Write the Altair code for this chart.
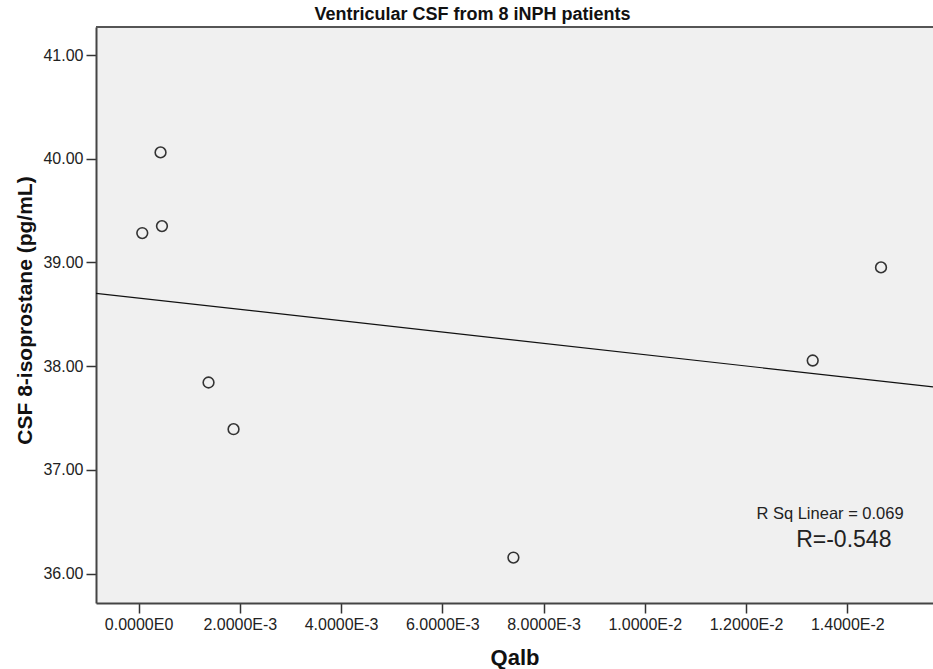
import altair as alt
import pandas as pd

# Data
qalb = [0.000073, 0.000434, 0.000462, 0.001382, 0.001876, 0.007404, 0.013316, 0.014665]
isoprostane = [39.283, 40.061, 39.350, 37.842, 37.392, 36.154, 38.054, 38.952]

x_ticks = [0.0, 0.002, 0.004, 0.006, 0.008, 0.010, 0.012, 0.014]
y_ticks = [36, 37, 38, 39, 40, 41]
x_domain = [-0.000841, 0.015692]
y_domain = [35.716, 41.270]

note_text = ["R Sq Linear = 0.069", "R=-0.548"]
note_x = [0.013658, 0.013930]
note_y = [36.572, 36.321]
note_size = [16.5, 23]

TITLE = "Ventricular CSF from 8 iNPH patients"
X_TITLE = "Qalb"
Y_TITLE = "CSF 8-isoprostane (pg/mL)"

pts = pd.DataFrame({"x": qalb, "y": isoprostane})
notes = pd.DataFrame({"x": note_x, "y": note_y, "t": note_text, "fs": note_size})

FONT = "Liberation Sans"

sci_label = (
    "datum.value == 0 ? '0.0000E0' : "
    "format(datum.value / pow(10, floor(log(abs(datum.value)) / LN10 + 1e-9)), '.4f') + 'E' + "
    "floor(log(abs(datum.value)) / LN10 + 1e-9)"
)

X = alt.X(
    "x:Q",
    scale=alt.Scale(domain=x_domain, nice=False, zero=False),
    axis=alt.Axis(
        values=x_ticks, labelExpr=sci_label, tickSize=10, labelPadding=3,
        title=X_TITLE, titleFont=FONT, titleFontSize=22, titleFontWeight="bold",
        titleY=61, titleBaseline="alphabetic", titleColor="#111",
    ),
)
Y = alt.Y(
    "y:Q",
    scale=alt.Scale(domain=y_domain, nice=False, zero=False),
    axis=alt.Axis(
        values=y_ticks, format=".2f", tickSize=10, labelPadding=3,
        title=Y_TITLE, titleFont=FONT, titleFontSize=21, titleFontWeight="bold",
        titleX=-65, titleY=283, titleAngle=270, titleAlign="center",
        titleBaseline="alphabetic", titleColor="#111",
    ),
)

points = alt.Chart(pts).mark_point(
    shape="circle", filled=False, size=115, stroke="#333333", strokeWidth=1.6, opacity=1
).encode(x=X, y=Y)

fit = alt.Chart(pts).transform_regression(
    "x", "y", extent=x_domain
).mark_line(color="#111111", strokeWidth=1.2, clip=True).encode(x=X, y=Y)

note_layer = alt.Chart(notes).mark_text(
    font=FONT, color="#222222", align="center", baseline="middle"
).encode(x=X, y=Y, text="t:N", size=alt.Size("fs:Q", scale=None, legend=None))

top_border = alt.Chart(pts).mark_rule(color="#555555", strokeWidth=2).encode(
    x=alt.value(0), x2=alt.value(837), y=alt.value(0)
)

chart = (
    alt.layer(fit, points, note_layer, top_border)
    .properties(
        width=837,
        height=576,
        padding={"left": 96, "top": 27, "right": 0, "bottom": 66},
        autosize=alt.AutoSizeParams(type="none"),
        background="white",
        title=alt.Title(
            TITLE, font=FONT, fontSize=18, fontWeight="bold", color="#111111",
            anchor="middle", frame="group", dx=-42, offset=2,
        ),
    )
    .configure_view(fill="#f0f0f0", stroke="transparent")
    .configure_axis(
        grid=False, labelFont=FONT, labelFontSize=16, labelColor="#222222",
        domainColor="#444444", domainWidth=2, tickColor="#333333", tickWidth=1.5,
    )
)

chart.save("out.html", embed_options={"renderer": "svg", "actions": False})
